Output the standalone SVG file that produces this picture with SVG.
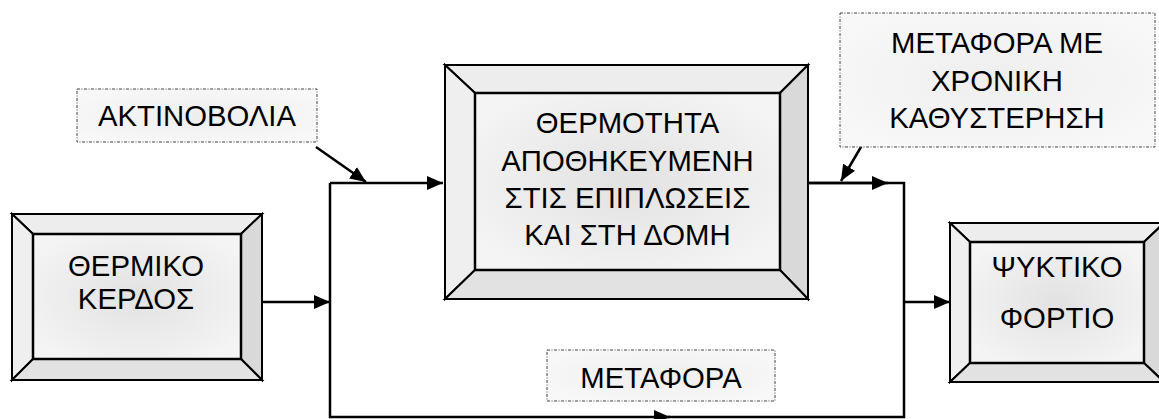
<svg xmlns="http://www.w3.org/2000/svg" width="1159" height="419" viewBox="0 0 1159 419">
<defs>
<radialGradient id="face" cx="50%" cy="50%" r="60%">
<stop offset="0" stop-color="#e2e2e2"/>
<stop offset="1" stop-color="#f4f4f4"/>
</radialGradient>
<radialGradient id="lab" cx="50%" cy="50%" r="60%">
<stop offset="0" stop-color="#eeeeee"/>
<stop offset="1" stop-color="#f8f8f8"/>
</radialGradient>
<marker id="ah" viewBox="0 0 16 14" refX="16" refY="7" markerWidth="16" markerHeight="14" markerUnits="userSpaceOnUse" orient="auto">
<path d="M0,0 L16,7 L0,14 Z" fill="#000"/>
</marker>
<style>
.t{font-family:"Liberation Sans",Arial,sans-serif;font-size:29.3px;fill:#000;text-anchor:middle}
.top{fill:#ededed;stroke:#000;stroke-width:2;stroke-linejoin:miter}
.left{fill:#efefef;stroke:#000;stroke-width:2}
.right{fill:#d9d9d9;stroke:#000;stroke-width:2}
.bot{fill:#e2e2e2;stroke:#000;stroke-width:2}
.face{fill:url(#face);stroke:#000;stroke-width:2.5}
.lbl{fill:url(#lab);stroke:#444;stroke-width:1;stroke-dasharray:3 1.5 1 1.5}
.c{fill:none;stroke:#000;stroke-width:2.5}
</style>
</defs>

<g id="connectors">
<path class="c" d="M262,302 H330" marker-end="url(#ah)"/>
<path class="c" d="M330,183 H443" marker-end="url(#ah)"/>
<path class="c" d="M330,183 V417 H670" marker-end="url(#ah)"/>
<path class="c" d="M668,417 H904 V183 H808"/>
<path class="c" d="M808,183 H888" marker-end="url(#ah)"/>
<path class="c" d="M904,302 H950" marker-end="url(#ah)"/>
<path class="c" d="M316,147 L366,182" marker-end="url(#ah)"/>
<path class="c" d="M878,118 L841,181" marker-end="url(#ah)"/>
</g>

<g id="node-thermiko-kerdos">
<polygon class="top" points="12,214 262,214 241,234 33,234"/>
<polygon class="left" points="12,214 33,234 33,359 12,380"/>
<polygon class="right" points="262,214 262,380 241,359 241,234"/>
<polygon class="bot" points="12,380 33,359 241,359 262,380"/>
<rect class="face" x="33" y="234" width="208" height="125"/>
<text class="t" x="136" y="276">ΘΕΡΜΙΚΟ</text>
<text class="t" x="136" y="309">ΚΕΡΔΟΣ</text>
</g>

<g id="node-thermotita">
<polygon class="top" points="445,65 808,65 780,93 475,93"/>
<polygon class="left" points="445,65 475,93 475,270 445,299"/>
<polygon class="right" points="808,65 808,299 780,270 780,93"/>
<polygon class="bot" points="445,299 475,270 780,270 808,299"/>
<rect class="face" x="475" y="93" width="305" height="177"/>
<text class="t" x="627.5" y="133">ΘΕΡΜΟΤΗΤΑ</text>
<text class="t" x="627.5" y="171">ΑΠΟΘΗΚΕΥΜΕΝΗ</text>
<text class="t" x="627.5" y="208">ΣΤΙΣ ΕΠΙΠΛΩΣΕΙΣ</text>
<text class="t" x="627.5" y="245">ΚΑΙ ΣΤΗ ΔΟΜΗ</text>
</g>

<g id="node-psyktiko-fortio">
<polygon class="top" points="950,223 1164,223 1144,242 970,242"/>
<polygon class="left" points="950,223 970,242 970,363 950,382"/>
<polygon class="right" points="1164,223 1164,382 1144,363 1144,242"/>
<polygon class="bot" points="950,382 970,363 1144,363 1164,382"/>
<rect class="face" x="970" y="242" width="174" height="121"/>
<text class="t" x="1057" y="277">ΨΥΚΤΙΚΟ</text>
<text class="t" x="1057" y="328">ΦΟΡΤΙΟ</text>
</g>

<g id="label-aktinovolia">
<rect class="lbl" x="77" y="89" width="240" height="53"/>
<text class="t" x="197" y="126">ΑΚΤΙΝΟΒΟΛΙΑ</text>
</g>

<g id="label-metafora-me">
<rect class="lbl" x="840" y="13" width="315" height="134"/>
<text class="t" x="997" y="53">ΜΕΤΑΦΟΡΑ ΜΕ</text>
<text class="t" x="997" y="91">ΧΡΟΝΙΚΗ</text>
<text class="t" x="997" y="128">ΚΑΘΥΣΤΕΡΗΣΗ</text>
</g>

<g id="label-metafora">
<rect class="lbl" x="547" y="350" width="228" height="51"/>
<text class="t" x="661" y="388">ΜΕΤΑΦΟΡΑ</text>
</g>
</svg>
